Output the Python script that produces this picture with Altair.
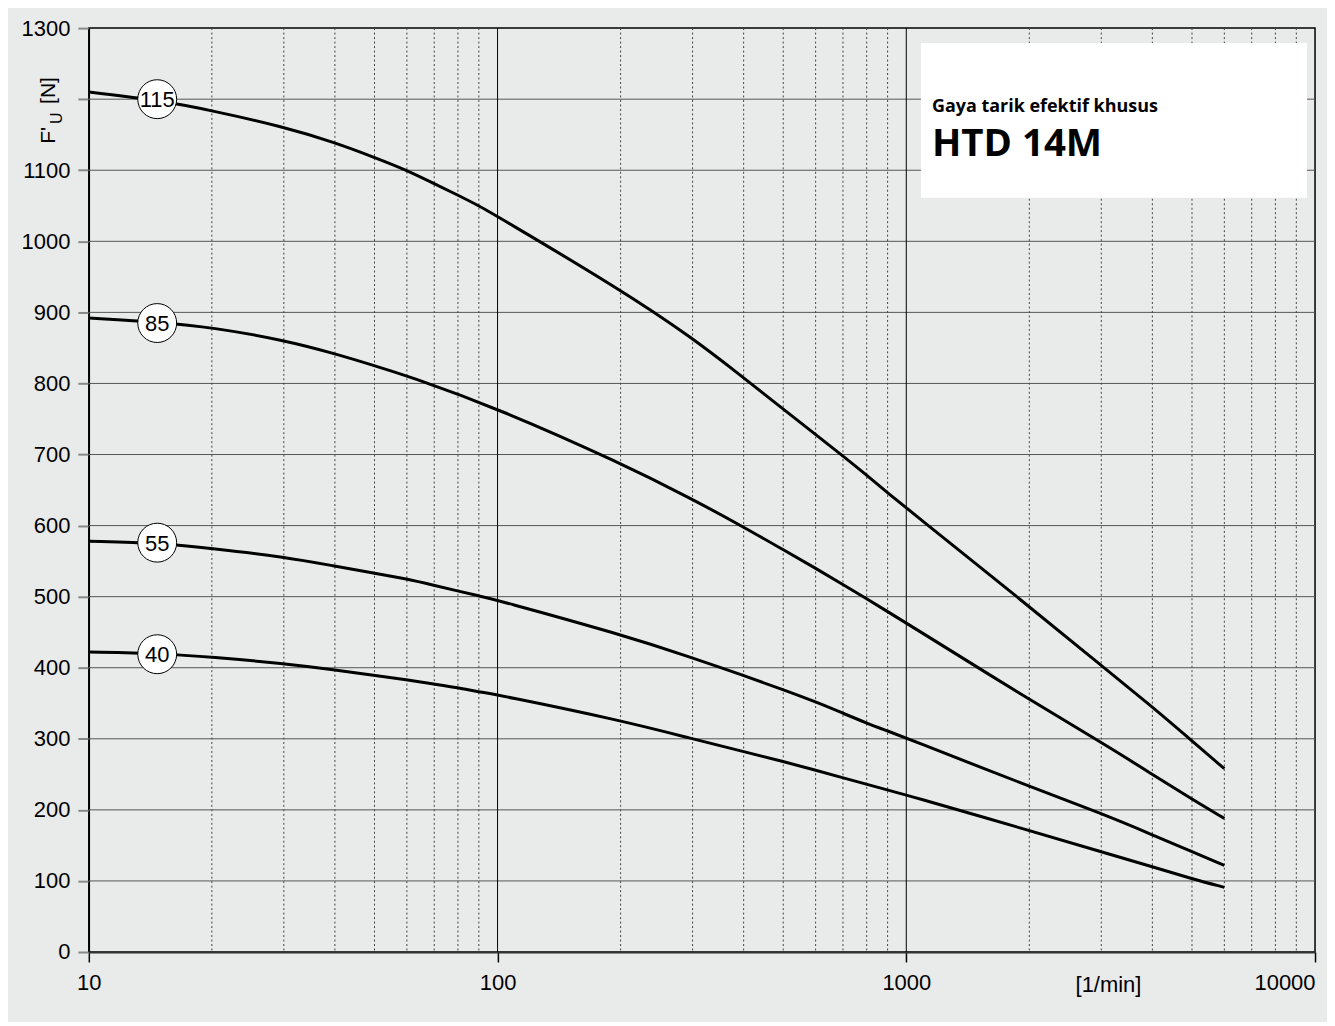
import altair as alt
import pandas as pd

# ---------------- data ----------------
rpm = [10, 15, 20, 30, 40, 50, 60, 70, 80, 90, 100, 200, 300, 400, 500,
       600, 700, 800, 900, 1000, 2000, 3000, 4000, 5000, 6000]
f115 = [1210, 1198, 1184, 1161, 1139, 1118, 1100, 1081, 1065, 1050, 1035,
        932, 864, 808, 764, 728, 698, 671, 646, 625, 486, 403, 345, 297, 258]
rpm85 = [10, 15, 20, 30, 40, 50, 60, 100, 200, 300, 400, 500, 600, 700,
         800, 900, 1000, 2000, 3000, 4000, 5000, 6000]
f85 = [892, 886, 879, 861, 842, 825, 811, 765, 688, 637, 598, 566, 540,
       517, 497, 479, 463, 355, 295, 250, 215, 188]
f55 = [578, 575, 568, 556, 543, 533, 525, 516, 508, 501, 495, 447, 414,
       389, 369, 352, 336, 322, 311, 301, 233, 195, 165, 141, 122]
f40 = [422, 420, 415, 406, 397, 389, 383, 377, 372, 366, 362, 326, 300,
       282, 268, 256, 245, 236, 228, 221, 171, 141, 120, 103, 91]

series_names = ["115", "85", "55", "40"]
label_x = [14.7, 14.7, 14.7, 14.7]
label_y = [1200, 885, 576, 419]

y_ticks = [0, 100, 200, 300, 400, 500, 600, 700, 800, 900, 1000, 1100, 1200, 1300]
y_hidden_label = 1200
y_grid = [100, 200, 300, 400, 500, 600, 700, 800, 900, 1000, 1100, 1200]
x_ticks = [10, 100, 1000, 10000]
x_minor = [20, 30, 40, 50, 60, 70, 80, 90,
           200, 300, 400, 500, 600, 700, 800, 900,
           2000, 3000, 4000, 5000, 6000, 7000, 8000, 9000]
x_major = [100, 1000]

title_small = "Gaya tarik efektif khusus"
title_big = "HTD 14M"
x_unit = "[1/min]"

# ---------------- tables ----------------
curves = pd.concat([
    pd.DataFrame({"rpm": rpm, "F": f115, "series": "115"}),
    pd.DataFrame({"rpm": rpm85, "F": f85, "series": "85"}),
    pd.DataFrame({"rpm": rpm, "F": f55, "series": "55"}),
    pd.DataFrame({"rpm": rpm, "F": f40, "series": "40"}),
], ignore_index=True)
labels = pd.DataFrame({"rpm": label_x, "F": label_y, "series": series_names})

FONT = "Liberation Sans"
one = pd.DataFrame({"k": [0]})

xs = alt.Scale(type="log", domain=[10, 10000], nice=False)
ys = alt.Scale(domain=[0, 1300], nice=False, zero=False)

x_axis = alt.Axis(
    values=x_ticks, format="d", title=None, grid=False,
    labelFont=FONT, labelFontSize=22, labelColor="black",
    tickSize=10, tickColor="black", tickWidth=1.5,
    domainColor="#333333", domainWidth=2, labelPadding=11,
    labelAlign=alt.ExprRef(expr="datum.value >= 10000 ? 'right' : 'center'"),
)
y_axis = alt.Axis(
    values=y_ticks, format="d", title=None, grid=False,
    labelExpr=f"datum.value == {y_hidden_label} ? '' : datum.label",
    labelFont=FONT, labelFontSize=22, labelColor="black",
    tickSize=11, tickColor="#888888", tickWidth=2,
    domainColor="black", domainWidth=1.5, labelPadding=8,
)


def X():
    return alt.X("rpm:Q", scale=xs, axis=x_axis)


def Y():
    return alt.Y("F:Q", scale=ys, axis=y_axis)


hgrid = alt.Chart(pd.DataFrame({"F": y_grid})).mark_rule(
    color="#555555", strokeWidth=1
).encode(y=Y())

vminor = alt.Chart(pd.DataFrame({"rpm": x_minor})).mark_rule(
    color="#444444", strokeWidth=1, strokeDash=[2, 2.5]
).encode(x=X())

vmajor = alt.Chart(pd.DataFrame({"rpm": x_major})).mark_rule(
    color="#000000", strokeWidth=1
).encode(x=X())

box = alt.Chart(one).mark_rect(color="white").encode(
    x=alt.value(834), x2=alt.value(1221), y=alt.value(15), y2=alt.value(170)
)

lines = alt.Chart(curves).mark_line(
    color="black", strokeWidth=3, interpolate="basis"
).encode(x=X(), y=Y(), detail="series:N")

circles = alt.Chart(labels).mark_point(
    shape="circle", size=1520, filled=True, fill="white", stroke="black",
    strokeWidth=1, opacity=1
).encode(x=X(), y=Y())

circle_text = alt.Chart(labels).mark_text(
    font=FONT, fontSize=22, color="black", align="center", baseline="middle", dy=1
).encode(x=X(), y=Y(), text="series:N")

t_small = alt.Chart(one).mark_text(
    font="Open Sans", fontWeight="bold", fontSize=18, align="left",
    baseline="alphabetic", color="black", text=title_small
).encode(x=alt.value(845), y=alt.value(84))

t_big = alt.Chart(one).mark_text(
    font="Open Sans", fontWeight="bold", fontSize=38.5, align="left",
    baseline="alphabetic", color="black", text=title_big
).encode(x=alt.value(845), y=alt.value(128))

ylab_f = alt.Chart(one).mark_text(
    font=FONT, fontSize=21, angle=270, align="left", baseline="alphabetic",
    color="black", text="F'"
).encode(x=alt.value(-34), y=alt.value(116))

ylab_u = alt.Chart(one).mark_text(
    font=FONT, fontSize=16, angle=270, align="left", baseline="alphabetic",
    color="black", text="U"
).encode(x=alt.value(-27), y=alt.value(96))

ylab_n = alt.Chart(one).mark_text(
    font=FONT, fontSize=21, angle=270, align="left", baseline="alphabetic",
    color="black", text="[N]"
).encode(x=alt.value(-34), y=alt.value(76))

xunit = alt.Chart(one).mark_text(
    font=FONT, fontSize=22, align="center", baseline="alphabetic",
    color="black", text=x_unit
).encode(x=alt.value(1022), y=alt.value(966))

chart = alt.layer(
    hgrid, vminor, vmajor, box, lines, circles, circle_text,
    t_small, t_big, ylab_f, ylab_u, ylab_n, xunit
).properties(
    width=1229, height=926,
    autosize=alt.AutoSizeParams(type="none"),
    padding={"left": 81, "top": 19, "right": 12, "bottom": 69},
    background="#e9eaea",
).configure_view(
    stroke="black", strokeWidth=1.5
)

chart.save("out.html", embed_options={"renderer": "svg", "actions": False})
